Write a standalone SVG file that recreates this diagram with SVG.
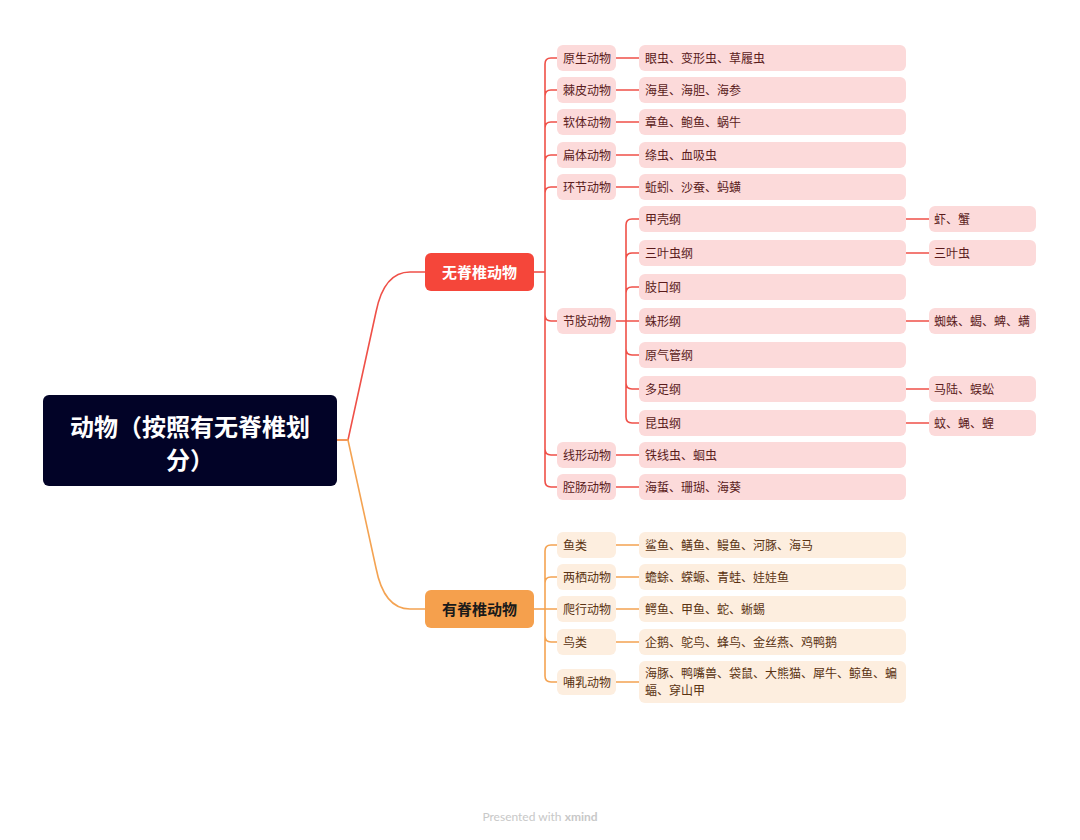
<svg xmlns="http://www.w3.org/2000/svg" width="1080" height="840" viewBox="0 0 1080 840">
<style>
text{font-family:"Noto Sans CJK SC","Noto Sans",sans-serif}
.r{fill:#fcdada}
.o{fill:#fdeedf}
.rt{font-size:12px;fill:#5a1b1b}
.ot{font-size:12px;fill:#5a3312}
.lr{fill:none;stroke:#ef5048;stroke-width:1.6}
.lo{fill:none;stroke:#f4a352;stroke-width:1.6}
</style>
<rect width="1080" height="840" fill="#ffffff"/>
<g id="connectors">
<path class="lr" d="M337 440H348L376 312Q384 272 410 272H425"/>
<path class="lo" d="M337 440H348L376 568Q384 609 410 609H425"/>
<path class="lr" d="M534 272H545"/>
<path class="lr" d="M545 272V64Q545 58 551 58H557M545 272V96Q545 90 551 90H557M545 272V128Q545 122 551 122H557M545 272V161Q545 155 551 155H557M545 272V193Q545 187 551 187H557M545 272V315Q545 321 551 321H557M545 272V449Q545 455 551 455H557M545 272V481Q545 487 551 487H557"/>
<path class="lr" d="M616 58H639M616 90H639M616 122H639M616 155H639M616 187H639M616 455H639M616 487H639"/>
<path class="lr" d="M616 321H639M626 321V225Q626 219 632 219H639M626 321V259Q626 253 632 253H639M626 321V293Q626 287 632 287H639M626 321V349Q626 355 632 355H639M626 321V383Q626 389 632 389H639M626 321V417Q626 423 632 423H639"/>
<path class="lr" d="M906 219H929M906 253H929M906 321H929M906 389H929M906 423H929"/>
<path class="lo" d="M534 609H545"/>
<path class="lo" d="M545 609V551Q545 545 551 545H557M545 609V583Q545 577 551 577H557M545 609H557M545 609V636Q545 642 551 642H557M545 609V676Q545 682 551 682H557"/>
<path class="lo" d="M616 545H639M616 577H639M616 609H639M616 642H639M616 682H639"/>
</g>
<g id="root"><rect x="43" y="395" width="294" height="91" rx="6" fill="#020327"/><text x="190" y="436" text-anchor="middle" font-size="24" font-weight="bold" fill="#ffffff">动物（按照有无脊椎划</text><text x="190" y="469" text-anchor="middle" font-size="24" font-weight="bold" fill="#ffffff">分）</text></g>
<g id="invertebrate"><rect x="425" y="253" width="109" height="38" rx="6" fill="#f5463a"/><text x="479.5" y="277.5" text-anchor="middle" font-size="15" font-weight="bold" fill="#ffffff">无脊椎动物</text></g>
<g id="vertebrate"><rect x="425" y="590" width="109" height="38" rx="6" fill="#f5a04d"/><text x="479.5" y="614.5" text-anchor="middle" font-size="15" font-weight="bold" fill="#1a1a1a">有脊椎动物</text></g>
<g id="n-yuansheng"><rect class="r" x="557" y="45" width="59" height="26" rx="6"/><text class="rt" x="563" y="62.5">原生动物</text></g>
<g id="l-yuansheng"><rect class="r" x="639" y="45" width="267" height="26" rx="6"/><text class="rt" x="645" y="62.5">眼虫、变形虫、草履虫</text></g>
<g id="n-jipi"><rect class="r" x="557" y="77" width="59" height="26" rx="6"/><text class="rt" x="563" y="94.5">棘皮动物</text></g>
<g id="l-jipi"><rect class="r" x="639" y="77" width="267" height="26" rx="6"/><text class="rt" x="645" y="94.5">海星、海胆、海参</text></g>
<g id="n-ruanti"><rect class="r" x="557" y="109" width="59" height="26" rx="6"/><text class="rt" x="563" y="126.5">软体动物</text></g>
<g id="l-ruanti"><rect class="r" x="639" y="109" width="267" height="26" rx="6"/><text class="rt" x="645" y="126.5">章鱼、鲍鱼、蜗牛</text></g>
<g id="n-bianti"><rect class="r" x="557" y="142" width="59" height="26" rx="6"/><text class="rt" x="563" y="159.5">扁体动物</text></g>
<g id="l-bianti"><rect class="r" x="639" y="142" width="267" height="26" rx="6"/><text class="rt" x="645" y="159.5">绦虫、血吸虫</text></g>
<g id="n-huanjie"><rect class="r" x="557" y="174" width="59" height="26" rx="6"/><text class="rt" x="563" y="191.5">环节动物</text></g>
<g id="l-huanjie"><rect class="r" x="639" y="174" width="267" height="26" rx="6"/><text class="rt" x="645" y="191.5">蚯蚓、沙蚕、蚂蟥</text></g>
<g id="n-jiezhi"><rect class="r" x="557" y="308" width="59" height="26" rx="6"/><text class="rt" x="563" y="325.5">节肢动物</text></g>
<g id="c-jiake"><rect class="r" x="639" y="206" width="267" height="26" rx="6"/><text class="rt" x="645" y="223.5">甲壳纲</text></g>
<g id="c-sanye"><rect class="r" x="639" y="240" width="267" height="26" rx="6"/><text class="rt" x="645" y="257.5">三叶虫纲</text></g>
<g id="c-zhikou"><rect class="r" x="639" y="274" width="267" height="26" rx="6"/><text class="rt" x="645" y="291.5">肢口纲</text></g>
<g id="c-zhuxing"><rect class="r" x="639" y="308" width="267" height="26" rx="6"/><text class="rt" x="645" y="325.5">蛛形纲</text></g>
<g id="c-yuanqi"><rect class="r" x="639" y="342" width="267" height="26" rx="6"/><text class="rt" x="645" y="359.5">原气管纲</text></g>
<g id="c-duozu"><rect class="r" x="639" y="376" width="267" height="26" rx="6"/><text class="rt" x="645" y="393.5">多足纲</text></g>
<g id="c-kunchong"><rect class="r" x="639" y="410" width="267" height="26" rx="6"/><text class="rt" x="645" y="427.5">昆虫纲</text></g>
<g id="s-jiake"><rect class="r" x="929" y="206" width="107" height="26" rx="6"/><text class="rt" x="934" y="223.5">虾、蟹</text></g>
<g id="s-sanye"><rect class="r" x="929" y="240" width="107" height="26" rx="6"/><text class="rt" x="934" y="257.5">三叶虫</text></g>
<g id="s-zhuxing"><rect class="r" x="929" y="308" width="107" height="26" rx="6"/><text class="rt" x="934" y="325.5">蜘蛛、蝎、蜱、螨</text></g>
<g id="s-duozu"><rect class="r" x="929" y="376" width="107" height="26" rx="6"/><text class="rt" x="934" y="393.5">马陆、蜈蚣</text></g>
<g id="s-kunchong"><rect class="r" x="929" y="410" width="107" height="26" rx="6"/><text class="rt" x="934" y="427.5">蚊、蝇、蝗</text></g>
<g id="n-xianxing"><rect class="r" x="557" y="442" width="59" height="26" rx="6"/><text class="rt" x="563" y="459.5">线形动物</text></g>
<g id="l-xianxing"><rect class="r" x="639" y="442" width="267" height="26" rx="6"/><text class="rt" x="645" y="459.5">铁线虫、蛔虫</text></g>
<g id="n-qiangchang"><rect class="r" x="557" y="474" width="59" height="26" rx="6"/><text class="rt" x="563" y="491.5">腔肠动物</text></g>
<g id="l-qiangchang"><rect class="r" x="639" y="474" width="267" height="26" rx="6"/><text class="rt" x="645" y="491.5">海蜇、珊瑚、海葵</text></g>
<g id="n-yulei"><rect class="o" x="557" y="532" width="59" height="26" rx="6"/><text class="ot" x="563" y="549.5">鱼类</text></g>
<g id="l-yulei"><rect class="o" x="639" y="532" width="267" height="26" rx="6"/><text class="ot" x="645" y="549.5">鲨鱼、鳝鱼、鳗鱼、河豚、海马</text></g>
<g id="n-liangqi"><rect class="o" x="557" y="564" width="59" height="26" rx="6"/><text class="ot" x="563" y="581.5">两栖动物</text></g>
<g id="l-liangqi"><rect class="o" x="639" y="564" width="267" height="26" rx="6"/><text class="ot" x="645" y="581.5">蟾蜍、蝾螈、青蛙、娃娃鱼</text></g>
<g id="n-paxing"><rect class="o" x="557" y="596" width="59" height="26" rx="6"/><text class="ot" x="563" y="613.5">爬行动物</text></g>
<g id="l-paxing"><rect class="o" x="639" y="596" width="267" height="26" rx="6"/><text class="ot" x="645" y="613.5">鳄鱼、甲鱼、蛇、蜥蜴</text></g>
<g id="n-niaolei"><rect class="o" x="557" y="629" width="59" height="26" rx="6"/><text class="ot" x="563" y="646.5">鸟类</text></g>
<g id="l-niaolei"><rect class="o" x="639" y="629" width="267" height="26" rx="6"/><text class="ot" x="645" y="646.5">企鹅、鸵鸟、蜂鸟、金丝燕、鸡鸭鹅</text></g>
<g id="n-buru"><rect class="o" x="557" y="669" width="59" height="26" rx="6"/><text class="ot" x="563" y="686.5">哺乳动物</text></g>
<g id="l-buru"><rect class="o" x="639" y="661" width="267" height="42" rx="6"/><text class="ot" x="645" y="678">海豚、鸭嘴兽、袋鼠、大熊猫、犀牛、鲸鱼、蝙</text><text class="ot" x="645" y="695">蝠、穿山甲</text></g>
<text x="540" y="821" text-anchor="middle" font-size="12" fill="#c8c8c8" style="font-family:Lato,'Noto Sans',sans-serif">Presented with <tspan font-weight="bold">xmind</tspan></text>
</svg>
